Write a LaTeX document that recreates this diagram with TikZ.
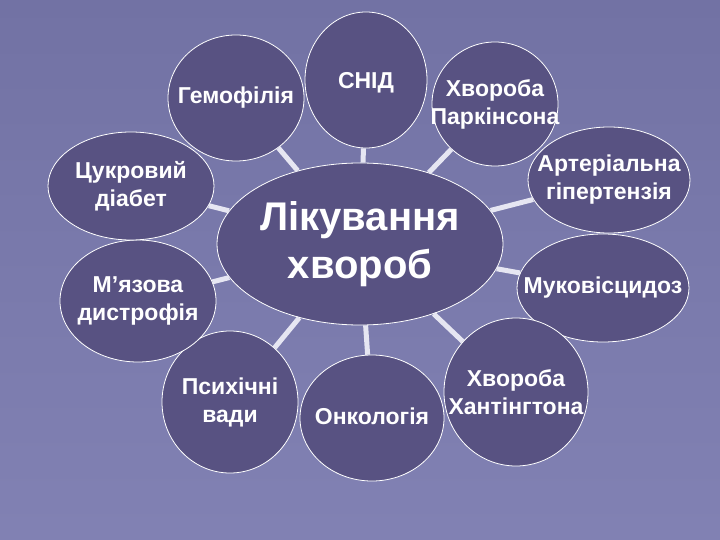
\documentclass[tikz,border=0pt]{standalone}
\usepackage{fontspec}
\setmainfont{Liberation Sans}
\usetikzlibrary{shapes.geometric}
\definecolor{slidebg}{RGB}{124, 124, 176}
\definecolor{slidetop}{RGB}{114, 114, 164}
\definecolor{discfill}{RGB}{88, 82, 130}
\definecolor{spokewhite}{RGB}{230, 230, 242}
\tikzset{
  disease/.style={ellipse, draw=white, line width=0.8pt, fill=discfill, inner sep=0pt},
  hub/.style={disease},
  spoke/.style={line width=5pt, spokewhite},
  caption/.style={text=white, align=center, inner sep=0pt, font=\fontsize{23}{28}\selectfont\bfseries},
  bigcaption/.style={caption, font=\fontsize{40}{48}\selectfont\bfseries}
}
\begin{document}
\begin{tikzpicture}[x=1pt, y=-1pt]
  % Background of the slide
  \fill[top color=slidetop, bottom color=slidebg!96!white] (0,0) rectangle (720,540);

  % Central ellipse
  \node[hub, minimum width=286pt, minimum height=162pt] (cure) at (360,244) {};

  % Outer ellipses
  \node[disease, minimum width=136pt, minimum height=126pt] (hemo) at (236,98) {};
  \node[disease, minimum width=122pt, minimum height=136pt] (snid) at (366,80) {};
  \node[disease, minimum width=126pt, minimum height=124pt] (park) at (495,104) {};
  \node[disease, minimum width=162pt, minimum height=106pt] (arter) at (609,180) {};
  \node[disease, minimum width=172pt, minimum height=108pt] (muko) at (603,288) {};
  \node[disease, minimum width=144pt, minimum height=148pt] (hunt) at (516,392) {};
  \node[disease, minimum width=144pt, minimum height=126pt] (onko) at (372,418) {};
  \node[disease, minimum width=136pt, minimum height=142pt] (psych) at (230,402) {};
  \node[disease, minimum width=156pt, minimum height=122pt] (myaz) at (138,301) {};
  \node[disease, minimum width=166pt, minimum height=108pt] (diab) at (131,186) {};

  % Spokes from the centre
  \foreach \n in {hemo, snid, park, arter, muko, hunt, onko, psych, myaz, diab}
    \draw[spoke] (cure) -- (\n);

  % Texts
  \node[bigcaption] (cure-t) at (cure) {Лікування\\хвороб};
  \node[caption] (hemo-t) at (hemo) {Гемофілія};
  \node[caption] (snid-t) at ([yshift=-3pt]snid) {СНІД};
  \node[caption] (park-t) at (park) {Хвороба\\Паркінсона};
  \node[caption] (arter-t) at (arter) {Артеріальна\\гіпертензія};
  \node[caption] (muko-t) at (muko) {Муковісцидоз};
  \node[caption] (hunt-t) at (hunt) {Хвороба\\Хантінгтона};
  \node[caption] (onko-t) at ([yshift=2pt]onko) {Онкологія};
  \node[caption] (psych-t) at (psych) {Психічні\\вади};
  \node[caption] (myaz-t) at (myaz) {М’язова\\дистрофія};
  \node[caption] (diab-t) at (diab) {Цукровий\\діабет};
\end{tikzpicture}
\end{document}
